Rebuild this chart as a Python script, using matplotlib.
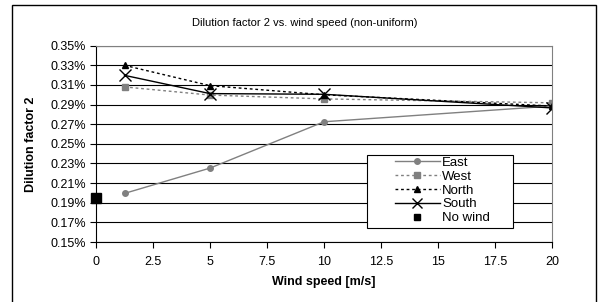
import matplotlib
matplotlib.use('Agg')
import matplotlib.pyplot as plt
from matplotlib.patches import Rectangle
from matplotlib.ticker import FuncFormatter

plt.rcParams['font.family'] = ['Liberation Sans', 'DejaVu Sans']

# data (wind speed in m/s, dilution factor in %)
wind = [1.25, 5, 10, 20]
east = [0.1995, 0.2253, 0.2725, 0.2885]
west = [0.3080, 0.2997, 0.2958, 0.2918]
north = [0.3300, 0.3093, 0.3000, 0.2885]
south = [0.3198, 0.3012, 0.3005, 0.2866]
no_wind_x = [0]
no_wind_y = [0.1946]

xticks = [0, 2.5, 5, 7.5, 10, 12.5, 15, 17.5, 20]
xtick_labels = ['0', '2.5', '5', '7.5', '10', '12.5', '15', '17.5', '20']
yticks = [0.0015, 0.0017, 0.0019, 0.0021, 0.0023, 0.0025, 0.0027,
          0.0029, 0.0031, 0.0033, 0.0035]

W, H = 605, 302
fig = plt.figure(figsize=(W / 100, H / 100), dpi=100)

# outer chart frame
fig.patches.append(Rectangle((12 / W, -0.1), (596 - 12) / W, 1.1 - 5.3 / H,
                             transform=fig.transFigure, fill=False,
                             edgecolor='black', linewidth=1.0))

ax = fig.add_axes([96 / W, 1 - 242 / H, (552 - 96) / W, (242 - 45.7) / H])

gray = '#808080'
ax.plot(wind, [v / 100 for v in east], color=gray, lw=1.0, marker='o', ms=4,
        label='East')
ax.plot(wind, [v / 100 for v in west], color=gray, lw=1.0, ls=(0, (2, 2)),
        marker='s', ms=4, label='West')
ax.plot(wind, [v / 100 for v in north], color='black', lw=1.0, ls=(0, (2, 2)),
        marker='^', ms=5, label='North')
ax.plot(wind, [v / 100 for v in south], color='black', lw=1.0, marker='x',
        ms=8, mew=1.0, label='South')
ax.plot(no_wind_x, [v / 100 for v in no_wind_y], color='black', ls='none',
        marker='s', ms=7, label='No wind', clip_on=False, zorder=5)

ax.set_xlim(0, 20)
ax.set_ylim(0.0015, 0.0035)
ax.set_xticks(xticks)
ax.set_xticklabels(xtick_labels)
ax.set_yticks(yticks)
ax.yaxis.set_major_formatter(FuncFormatter(lambda v, p: f'{v * 100:.2f}%'))
ax.tick_params(axis='both', direction='out', length=4, width=0.8,
               labelsize=9, pad=3, color='black')
ax.tick_params(axis='x', pad=6)
ax.grid(axis='y', color='black', lw=0.8)
ax.set_axisbelow(True)
for s in ['top', 'right']:
    ax.spines[s].set_color(gray)
    ax.spines[s].set_linewidth(0.8)
for s in ['left', 'bottom']:
    ax.spines[s].set_color('black')
    ax.spines[s].set_linewidth(0.8)

ax.set_xlabel('Wind speed [m/s]', fontsize=9, fontweight='bold', labelpad=6)
ax.set_ylabel('Dilution factor 2', fontsize=9, fontweight='bold', labelpad=10)
fig.text(305 / W, 1 - 23 / H, 'Dilution factor 2 vs. wind speed (non-uniform)',
         ha='center', va='center', fontsize=8)

# legend box drawn separately so it can be as wide as in the original
ax.add_patch(Rectangle((367 / W, 1 - 228 / H), (513 - 367) / W,
                       (228 - 155) / H, transform=fig.transFigure,
                       facecolor='white', edgecolor='black',
                       linewidth=0.8, zorder=6, clip_on=False))
leg = ax.legend(loc='upper left', bbox_to_anchor=(392 / W, 1 - 154 / H),
                bbox_transform=fig.transFigure, fontsize=9.5, frameon=False,
                handlelength=3.4, handletextpad=0.2, labelspacing=0.12,
                borderpad=0.2, borderaxespad=0)
leg.set_zorder(7)
for h in leg.legend_handles:
    if h.get_label() == 'No wind':
        h.set_markersize(5)
    if h.get_label() == 'South':
        h.set_markersize(7)

fig.savefig('out.png', dpi=100)
